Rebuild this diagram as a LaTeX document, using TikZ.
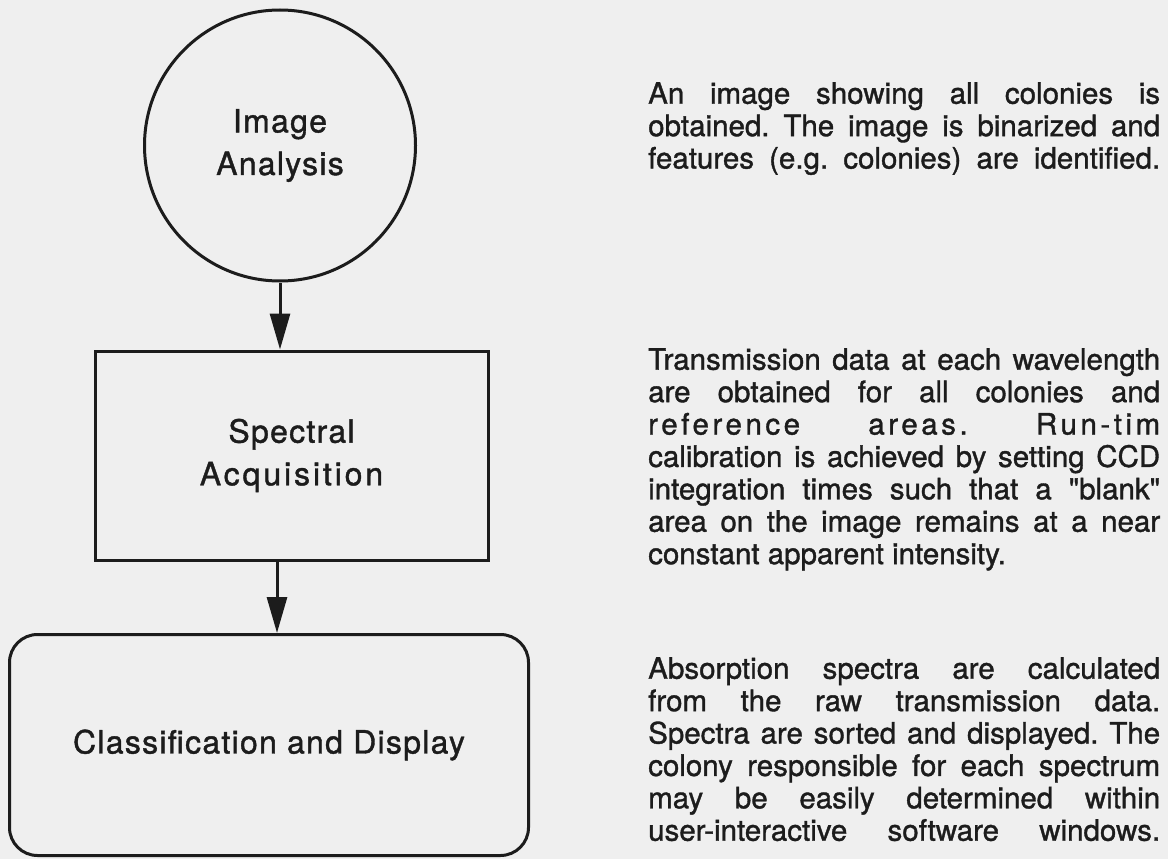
\documentclass[tikz,border=0pt]{standalone}
\usepackage{fontspec}
\setmainfont{TeX Gyre Heros}[FakeBold=1.2]
\newfontfamily\spacedfont{TeX Gyre Heros}[LetterSpace=12,FakeBold=1.2]
\newfontfamily\qfont{TeX Gyre Heros}[Ligatures=TeXOff,FakeBold=1.2]
\usetikzlibrary{arrows.meta}
\definecolor{bg}{HTML}{EFEFEF}
\definecolor{ink}{HTML}{1C1C1C}
\newcommand{\jl}[1]{\makebox[512pt][s]{#1}}
\newcommand{\dq}{{\qfont"}}
\begin{document}
\frenchspacing
\begin{tikzpicture}[x=1pt,y=-1pt,
  shapeline/.style={draw=ink, line width=3pt, text=ink},
  bigtext/.style={font=\fontsize{32}{42.6}\selectfont\addfontfeature{LetterSpace=4}, align=center},
  para/.style={anchor=north west, inner sep=0pt, align=left, text=ink, font=\fontsize{29.5}{32.4}\selectfont\frenchspacing},
  flowarrow/.style={draw=ink, line width=3pt, -{Triangle[length=36pt,width=20pt]}}]
\fill[bg] (0,0) rectangle (1168,859);
\useasboundingbox (0,0) rectangle (1168,859);

% flow shapes
\node[shapeline, bigtext, circle, minimum size=271pt, inner sep=0pt] (img) at (280,145.5) {Image\\Analysis};
\node[shapeline, bigtext, rectangle, minimum width=393pt, minimum height=209pt, inner sep=0pt] (spec) at (291.5,455.5) {Spectral\\{\addfontfeature{LetterSpace=9}Acquisition}};
\node[shapeline, bigtext, rectangle, rounded corners=28pt, minimum width=519pt, minimum height=221pt, inner sep=0pt] (cls) at (269,745) {Classification and Display};

% connectors
\coordinate (a2) at (277,0);
\draw[flowarrow] (img.south) -- (img.south |- spec.north);
\draw[flowarrow] (spec.south -| a2) -- (cls.north -| a2);

% descriptions
\node[para] (d1) at (648,82) {%
\jl{An image showing all colonies is}\\
\jl{obtained. The image is binarized and}\\
\jl{features (e.g. colonies) are identified.}};

\node[para] (d2) at (648,348) {%
\jl{Transmission data at each wavelength}\\
\jl{are obtained for all colonies and}\\
\jl{\spacedfont reference areas. Run-tim}\\
\jl{calibration is achieved by setting CCD}\\
\jl{integration times such that a \dq blank\dq}\\
\jl{area on the image remains at a near}\\
constant apparent intensity.};

\node[para] (d3) at (648,657) {%
\jl{Absorption spectra are calculated}\\
\jl{from the raw transmission data.}\\
\jl{Spectra are sorted and displayed. The}\\
\jl{colony responsible for each spectrum}\\
\jl{may be easily determined within}\\
\jl{user-interactive software windows.}};
\end{tikzpicture}
\end{document}
